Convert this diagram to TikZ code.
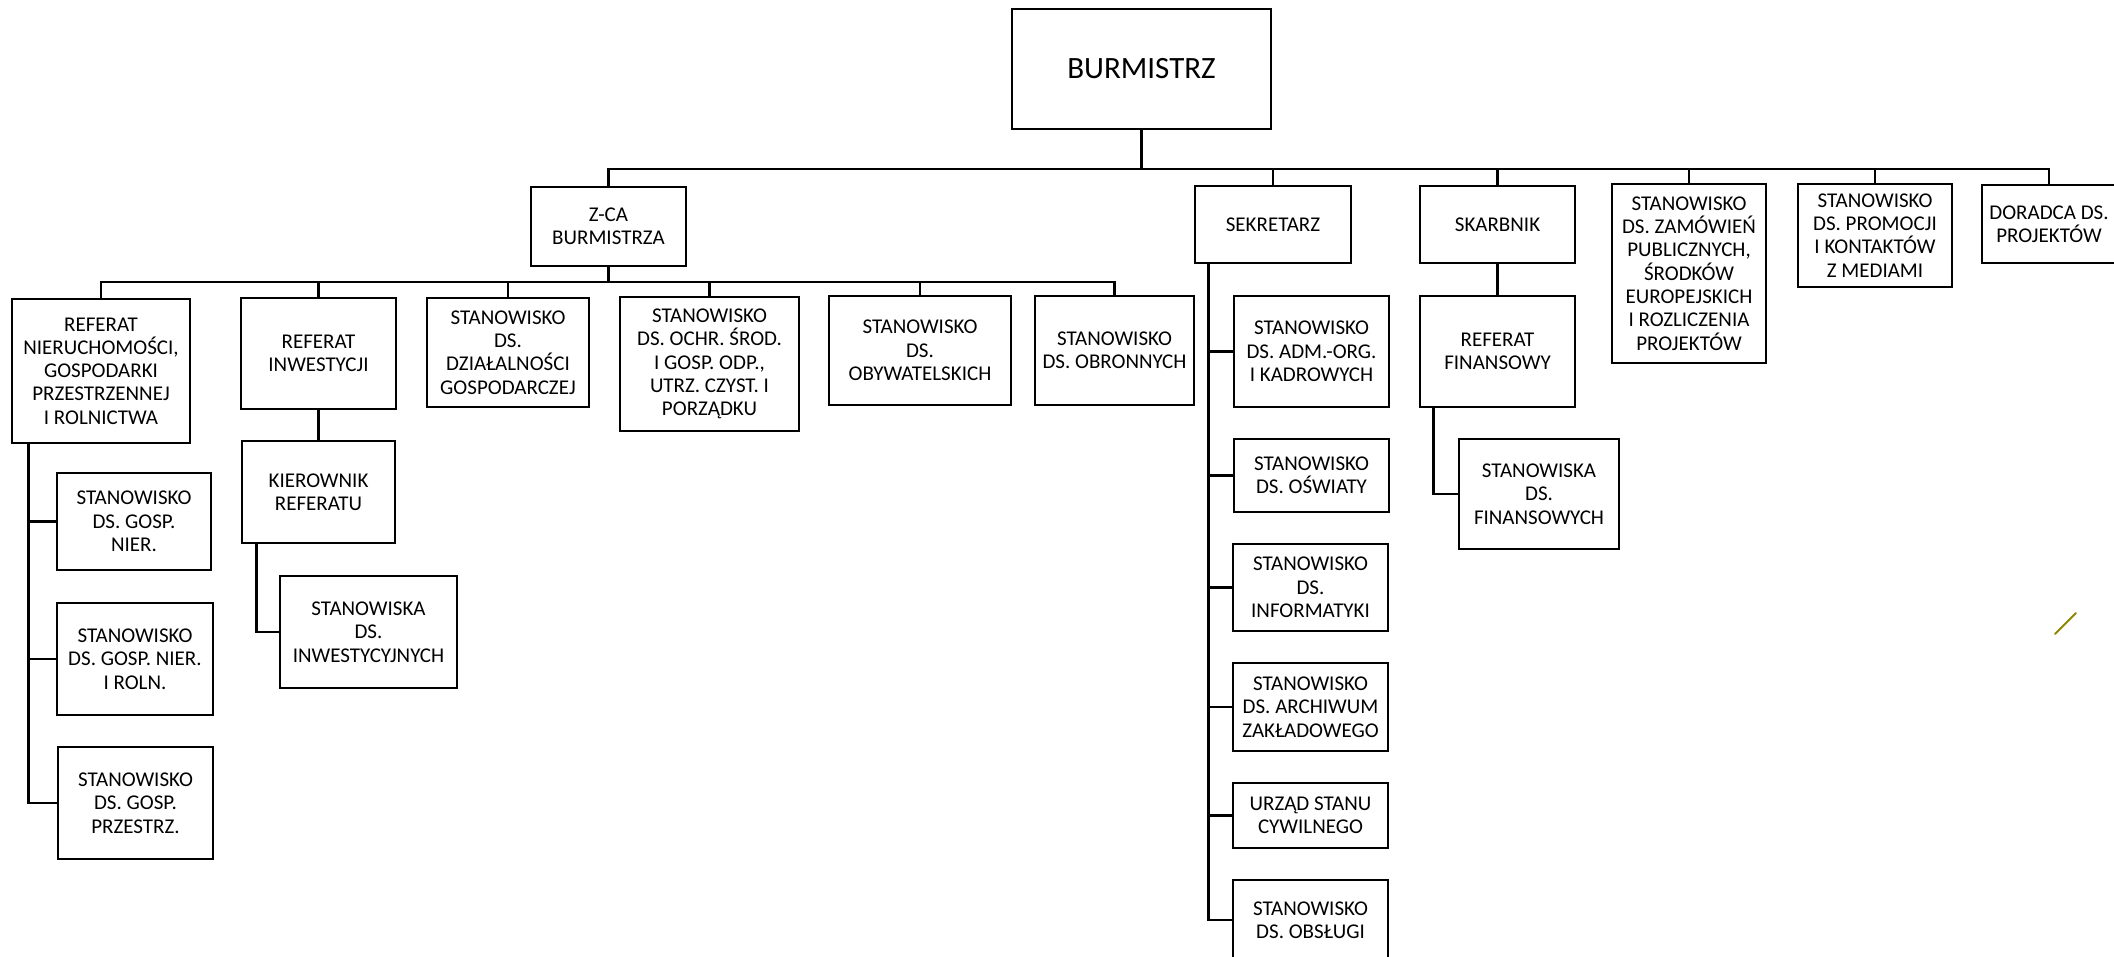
\documentclass[tikz,border=0pt]{standalone}
\usepackage{fontspec}
\setmainfont{Carlito}
\begin{document}
\begin{tikzpicture}[
  x=1pt, y=-1pt,
  line width=2.6pt, line cap=rect,
  unit/.style={draw, align=center, inner sep=0pt, font=\fontsize{21}{23.3}\selectfont}
]
\useasboundingbox (0,0) rectangle (2114,957);

\node [unit, minimum width=259pt, minimum height=120pt, font=\fontsize{31}{36}\selectfont] (burm) at (1141.5,69) {BURMISTRZ};

\node [unit, minimum width=155pt, minimum height=79pt] (zca) at (608.5,226.5) {Z-CA\\BURMISTRZA};
\node [unit, minimum width=156pt, minimum height=77pt] (sek) at (1273,224.5) {SEKRETARZ};
\node [unit, minimum width=155pt, minimum height=77pt] (skarb) at (1497.5,224.5) {SKARBNIK};
\node [unit, minimum width=154pt, minimum height=179pt] (zam) at (1689,273.5) {STANOWISKO\\DS. ZAMÓWIEŃ\\PUBLICZNYCH,\\ŚRODKÓW\\EUROPEJSKICH\\I ROZLICZENIA\\PROJEKTÓW};
\node [unit, minimum width=154pt, minimum height=103pt] (prom) at (1875,235.5) {STANOWISKO\\DS. PROMOCJI\\I KONTAKTÓW\\Z MEDIAMI};
\node [unit, minimum width=134pt, minimum height=78pt] (dor) at (2049,224) {DORADCA DS.\\PROJEKTÓW};

\node [unit, minimum width=178pt, minimum height=144pt] (rnier) at (101,371) {REFERAT\\NIERUCHOMOŚCI,\\GOSPODARKI\\PRZESTRZENNEJ\\I ROLNICTWA};
\node [unit, minimum width=155pt, minimum height=111pt] (rinw) at (318.5,353.5) {REFERAT\\INWESTYCJI};
\node [unit, minimum width=162pt, minimum height=109pt] (dzial) at (508,352.5) {STANOWISKO\\DS.\\DZIAŁALNOŚCI\\GOSPODARCZEJ};
\node [unit, minimum width=179pt, minimum height=134pt] (ochr) at (709.5,364) {STANOWISKO\\DS. OCHR. ŚROD.\\I GOSP. ODP.,\\UTRZ. CZYST. I\\PORZĄDKU};
\node [unit, minimum width=182pt, minimum height=109pt] (obyw) at (920,350.5) {STANOWISKO\\DS.\\OBYWATELSKICH};
\node [unit, minimum width=159pt, minimum height=109pt] (obron) at (1114.5,350.5) {STANOWISKO\\DS. OBRONNYCH};

\node [unit, minimum width=154pt, minimum height=97pt] (gnier) at (134,521.5) {STANOWISKO\\DS. GOSP.\\NIER.};
\node [unit, minimum width=156pt, minimum height=112pt] (groln) at (135,659) {STANOWISKO\\DS. GOSP. NIER.\\I ROLN.};
\node [unit, minimum width=155pt, minimum height=112pt] (gprz) at (135.5,803) {STANOWISKO\\DS. GOSP.\\PRZESTRZ.};

\node [unit, minimum width=153pt, minimum height=102pt] (kier) at (318.5,492) {KIEROWNIK\\REFERATU};
\node [unit, minimum width=177pt, minimum height=112pt] (sinw) at (368.5,632) {STANOWISKA\\DS.\\INWESTYCYJNYCH};

\node [unit, minimum width=155pt, minimum height=111pt] (adm) at (1311.5,351.5) {STANOWISKO\\DS. ADM.-ORG.\\I KADROWYCH};
\node [unit, minimum width=155pt, minimum height=73pt] (osw) at (1311.5,475.5) {STANOWISKO\\DS. OŚWIATY};
\node [unit, minimum width=155pt, minimum height=87pt] (inf) at (1310.5,587.5) {STANOWISKO\\DS.\\INFORMATYKI};
\node [unit, minimum width=155pt, minimum height=88pt] (arch) at (1310.5,707) {STANOWISKO\\DS. ARCHIWUM\\ZAKŁADOWEGO};
\node [unit, minimum width=155pt, minimum height=65pt] (usc) at (1310.5,815.5) {URZĄD STANU\\CYWILNEGO};
\node [unit, minimum width=155pt, minimum height=80pt] (obs) at (1310.5,920) {STANOWISKO\\DS. OBSŁUGI};

\node [unit, minimum width=155pt, minimum height=111pt] (rfin) at (1497.5,351.5) {REFERAT\\FINANSOWY};
\node [unit, minimum width=160pt, minimum height=110pt] (sfin) at (1539,494) {STANOWISKA\\DS.\\FINANSOWYCH};

\coordinate (bus0) at (0,169);
\coordinate (bus1) at (0,282);
\draw (burm.south) -- (burm.south |- bus0);
\draw (zca.north |- bus0) -- (dor.north |- bus0);
\foreach \n in {zca,sek,skarb,zam,prom,dor}
  \draw (\n.north) -- (\n.north |- bus0);
\draw (zca.south) -- (zca.south |- bus1);
\draw (rnier.north |- bus1) -- (obron.north |- bus1);
\foreach \n in {rnier,rinw,dzial,ochr,obyw,obron}
  \draw (\n.north) -- (\n.north |- bus1);

\coordinate (rnspine) at ([xshift=18pt]rnier.south west);
\draw (rnspine) |- (gprz.west);
\foreach \n in {gnier,groln}
  \draw (\n.west) -- (\n.west -| rnspine);

\draw (rinw.south) -- (kier.north);
\coordinate (krspine) at ([xshift=16pt]kier.south west);
\draw (krspine) |- (sinw.west);

\coordinate (skspine) at ([xshift=15pt]sek.south west);
\draw (skspine) |- (obs.west);
\foreach \n in {adm,osw,inf,arch,usc}
  \draw (\n.west) -- (\n.west -| skspine);

\draw (skarb.south) -- (rfin.north);
\coordinate (rfspine) at ([xshift=15pt]rfin.south west);
\draw (rfspine) |- (sfin.west);

\draw [olive, line width=2pt, line cap=round] (2055,634) -- (2076,613);

\end{tikzpicture}
\end{document}
